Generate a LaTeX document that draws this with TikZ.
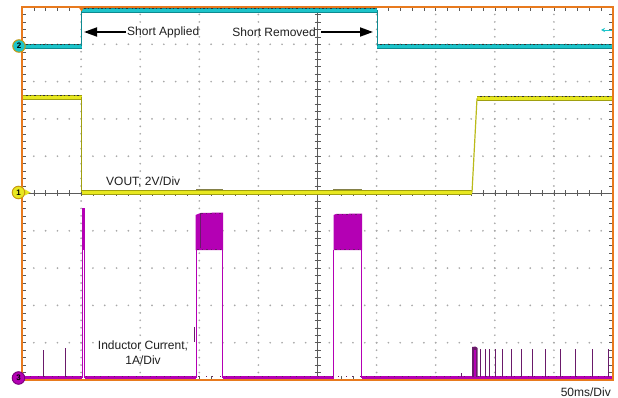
\documentclass[tikz,border=0pt]{standalone}
\usepackage{fontspec}
\setmainfont{Liberation Sans}
\usetikzlibrary{arrows.meta}
\definecolor{scopeorange}{HTML}{E87A1E}
\definecolor{tracecyan}{HTML}{1CC4CA}
\definecolor{cyanedge}{HTML}{0E8A90}
\definecolor{traceyellow}{HTML}{E8E820}
\definecolor{yellowedge}{HTML}{A0A010}
\definecolor{tracemag}{HTML}{B400B4}
\definecolor{magdark}{HTML}{6A1A6A}
\definecolor{griddot}{HTML}{A8A8A8}
\definecolor{tickgray}{HTML}{5A5A5A}
\definecolor{ringgold}{HTML}{C89A10}
\begin{document}
\begin{tikzpicture}[x=1pt,y=-1pt,
  lbl/.style={font=\fontsize{12}{14.5}\selectfont, text=black!88, inner sep=1pt},
  arr/.style={line width=1.8pt, -{Triangle[length=13pt,width=9pt]}},
  mk/.style={circle, draw=ringgold, line width=1pt, minimum size=12.5pt, inner sep=0pt, font=\fontsize{8}{8}\selectfont\bfseries},
  tick/.style={tickgray, line width=0.5pt},
  noise/.style={black!80, line width=0.8pt, dash pattern=on 1.5pt off 2.5pt on 1pt off 3pt on 2pt off 4pt on 1pt off 2pt}]
\useasboundingbox (0,0) rectangle (618,398);
\fill[white] (0,0) rectangle (618,398);
% grid dots
\foreach \i in {1,...,9}{
  \foreach \k in {0,...,50}{
    \fill[griddot] (22+59.1*\i, 7+7.46*\k) circle (0.95);
    \fill[griddot] (22+11.82*\k, 7+37.3*\i) circle (0.95);
  }
}
% center axes with ticks
\draw[tickgray, line width=0.6pt] (317.5,7) -- (317.5,380);
\draw[tickgray, line width=0.6pt] (22,193.5) -- (613,193.5);
\foreach \k in {1,...,49}{
  \draw[tick] (314.5,7+7.46*\k) -- (320.5,7+7.46*\k);
  \draw[tick] (22+11.82*\k,190.5) -- (22+11.82*\k,196.5);
  \draw[tick] (22,7+7.46*\k) -- (26,7+7.46*\k);
  \draw[tick] (613,7+7.46*\k) -- (609,7+7.46*\k);
  \draw[tick] (22+11.82*\k,7) -- (22+11.82*\k,11);
  \draw[tick] (22+11.82*\k,380) -- (22+11.82*\k,376);
}
\begin{scope}
\clip (22,7) rectangle (613,380);
% ---- channel 2 (cyan)
\draw[cyanedge, line width=5.4pt] (22,46.5) -- (81.5,46.5) (81.5,10.5) -- (377,10.5) (377,46.5) -- (613,46.5);
\draw[tracecyan, line width=3.6pt] (22,46.5) -- (81.5,46.5) (81.5,10.5) -- (377,10.5) (377,46.5) -- (613,46.5);
\draw[cyanedge, line width=0.7pt] (81.5,46.5) -- (81.5,10.5) (377,10.5) -- (377,46.5);
\draw[noise] (26,44) -- (80,44) (380,44) -- (612,44) (84,8.5) -- (375,8.5);
% ---- channel 1 (yellow)
\draw[yellowedge, line width=5.2pt] (22,97.5) -- (81.5,97.5) (81.5,192.5) -- (472,192.5) (477,98.5) -- (613,98.5);
\draw[traceyellow, line width=3.6pt] (22,97.5) -- (81.5,97.5) (81.5,192.5) -- (472,192.5) (477,98.5) -- (613,98.5);
\draw[yellowedge, line width=0.7pt] (81.5,97.5) -- (81.5,192.5);
\draw[traceyellow!80!black, line width=1.2pt] (472,192.5) -- (477,98.5);
\draw[noise] (26,95) -- (80,95) (480,96) -- (611,96);
\draw[black!55!yellow, line width=1pt] (196,189.3) -- (223,189.3) (333,189.3) -- (362,189.3);
% ---- channel 3 (magenta)
\draw[tracemag, line width=4pt] (22,377.5) -- (81.5,377.5) (85,377.5) -- (195.5,377.5) (223,377.5) -- (333.5,377.5) (362,377.5) -- (613,377.5);
\draw[magdark, line width=0.6pt, dash pattern=on 1pt off 5pt on 1pt off 7pt] (24,376.5) -- (612,376.5);
% pulses
\fill[tracemag] (81.7,208) rectangle (85.3,250);
\draw[tracemag, line width=0.7pt] (82,250) -- (82,378) (84.6,250) -- (84.6,378);
\fill[tracemag] (195.5,215) -- (200.5,213) -- (223,212.5) -- (223,250) -- (195.5,250) -- cycle;
\draw[magdark, line width=0.6pt] (200.5,213) -- (200.5,248);
\draw[magdark, line width=0.8pt, dash pattern=on 1.5pt off 3pt] (201,213) -- (222,213) (197,249.5) -- (222,249.5);
\draw[tracemag, line width=0.7pt] (196,250) -- (196,378) (222.7,250) -- (222.7,378);
\draw[magdark, line width=0.8pt] (194.5,327) -- (194.5,342);
\fill[tracemag] (333.5,215) -- (336,214) -- (362,213.5) -- (362,250) -- (333.5,250) -- cycle;
\draw[magdark, line width=0.8pt, dash pattern=on 1.5pt off 3pt] (337,214) -- (361,214) (335,249.5) -- (361,249.5);
\draw[tracemag, line width=0.7pt] (333.8,250) -- (333.8,378) (361.8,250) -- (361.8,378);
% spikes
\draw[magdark, line width=0.8pt] (43,377) -- (43,350) (65,377) -- (65,348) (461,377) -- (461,373);
\foreach \x in {480,485,489,495,502,511,521,532,545,560,575,592,608}{
  \draw[magdark, line width=0.8pt] (\x,377) -- (\x,349);
}
\fill[magdark] (472,347) -- (475.5,346.5) -- (477.5,348) -- (477.5,377) -- (472,377) -- cycle;
\fill[tracemag] (474,350) rectangle (475.5,377);
\end{scope}
% frame
\draw[scopeorange, line width=2pt] (22,7) rectangle (613,380);
\fill[scopeorange] (78.5,7) -- (84.5,7) -- (81.5,11.5) -- cycle;
% channel markers
\node[mk, fill=tracecyan] (m2) at (19,46) {2};
\fill[traceyellow] (25,189.5) -- (30.5,192.5) -- (25,195.5) -- cycle;
\node[mk, fill=traceyellow] (m1) at (18.5,192.5) {1};
\node[mk, fill=tracemag, draw=tracemag!70!black] (m3) at (18.5,378) {3};
\coordinate (offA) at (612,30);
\coordinate (offB) at (601,30);
\draw[tracecyan, line width=0.8pt, -{Stealth[length=4pt,width=4pt]}] (offA) -- (offB);
% labels and arrows
\node[lbl, anchor=west] (sa) at (126,32) {Short Applied};
\coordinate (saTip) at (84,32);
\draw[arr] (sa.west) -- (saTip);
\node[lbl, anchor=east] (sr) at (317,32) {Short Removed};
\coordinate (srTip) at (373,32);
\draw[arr, shorten <=4pt] (sr.east) -- (srTip);
\node[lbl, anchor=west] (vout) at (105,182) {VOUT, 2V/Div};
\node[lbl, align=center] (ind) at (143,352.5) {Inductor Current,\\1A/Div};
\node[lbl, anchor=east] (tb) at (612,392) {50ms/Div};
\end{tikzpicture}
\end{document}
